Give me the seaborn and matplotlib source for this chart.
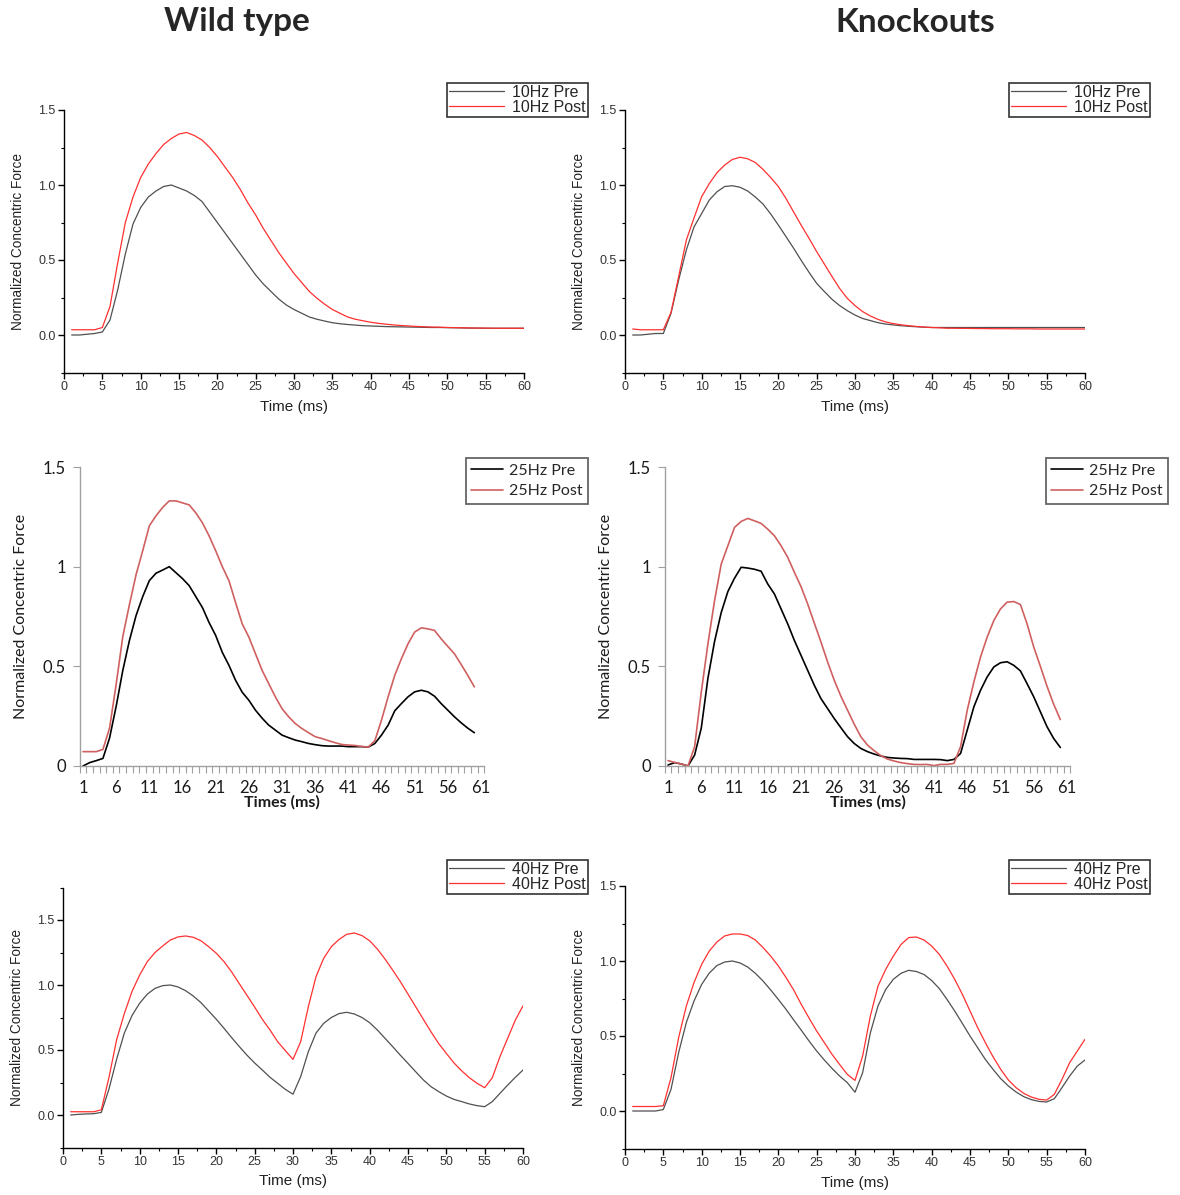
import numpy as np
import matplotlib
matplotlib.use("Agg")
import matplotlib.pyplot as plt
from matplotlib.ticker import MultipleLocator, FixedLocator
import seaborn as sns

# time axis (ms) / Excel categories
time_ms = list(range(1, 61))

# 10 Hz (Origin plots)
wt10_pre = [0.0, 0.0, 0.005, 0.01, 0.02, 0.1, 0.3, 0.54, 0.74, 0.85,
            0.92, 0.96, 0.99, 1.0, 0.98, 0.96, 0.93, 0.89, 0.82, 0.75,
            0.68, 0.61, 0.54, 0.47, 0.4, 0.34, 0.29, 0.24, 0.2, 0.17,
            0.145, 0.12, 0.105, 0.093, 0.082, 0.075, 0.07, 0.066, 0.062, 0.06,
            0.058, 0.056, 0.055, 0.054, 0.053, 0.052, 0.051, 0.05, 0.05, 0.049,
            0.048, 0.047, 0.046, 0.046, 0.045, 0.045, 0.045, 0.045, 0.045, 0.045]
wt10_post = [0.035, 0.035, 0.035, 0.035, 0.05, 0.19, 0.48, 0.75, 0.92, 1.05,
             1.14, 1.21, 1.27, 1.31, 1.34, 1.35, 1.33, 1.3, 1.25, 1.19,
             1.12, 1.05, 0.97, 0.88, 0.8, 0.71, 0.63, 0.55, 0.48, 0.41,
             0.35, 0.29, 0.245, 0.205, 0.17, 0.145, 0.12, 0.105, 0.095, 0.085,
             0.078, 0.072, 0.067, 0.063, 0.06, 0.057, 0.055, 0.053, 0.052, 0.05,
             0.049, 0.048, 0.047, 0.046, 0.046, 0.045, 0.045, 0.045, 0.045, 0.045]
ko10_pre = [0.0, 0.0, 0.005, 0.01, 0.01, 0.144, 0.367, 0.567, 0.72, 0.81,
            0.9, 0.955, 0.99, 0.995, 0.985, 0.96, 0.92, 0.873, 0.807, 0.733,
            0.656, 0.578, 0.496, 0.418, 0.344, 0.29, 0.238, 0.196, 0.162, 0.133,
            0.11, 0.096, 0.082, 0.073, 0.067, 0.062, 0.058, 0.055, 0.052, 0.05,
            0.05, 0.05, 0.05, 0.05, 0.05, 0.05, 0.05, 0.05, 0.05, 0.05,
            0.05, 0.05, 0.05, 0.05, 0.05, 0.05, 0.05, 0.05, 0.05, 0.05]
ko10_post = [0.04, 0.035, 0.035, 0.035, 0.035, 0.15, 0.39, 0.633, 0.78, 0.922,
             1.01, 1.082, 1.133, 1.17, 1.185, 1.175, 1.15, 1.104, 1.05, 0.99,
             0.91, 0.82, 0.73, 0.645, 0.556, 0.473, 0.39, 0.31, 0.244, 0.196,
             0.156, 0.127, 0.104, 0.087, 0.076, 0.068, 0.062, 0.057, 0.053, 0.05,
             0.048, 0.045, 0.045, 0.044, 0.044, 0.043, 0.043, 0.042, 0.042, 0.042,
             0.041, 0.041, 0.041, 0.04, 0.04, 0.04, 0.04, 0.04, 0.04, 0.04]

# 25 Hz (Excel plots)
wt25_pre = [0.0, 0.017, 0.027, 0.038, 0.14, 0.3, 0.48, 0.63, 0.755, 0.85,
            0.93, 0.967, 0.983, 1.0, 0.97, 0.94, 0.905, 0.85, 0.795, 0.72,
            0.655, 0.57, 0.505, 0.43, 0.37, 0.33, 0.28, 0.24, 0.205, 0.18,
            0.155, 0.142, 0.13, 0.122, 0.113, 0.107, 0.102, 0.1, 0.1, 0.1,
            0.097, 0.097, 0.097, 0.095, 0.113, 0.155, 0.205, 0.277, 0.313, 0.347,
            0.372, 0.38, 0.372, 0.35, 0.313, 0.28, 0.247, 0.217, 0.19, 0.167]
wt25_post = [0.072, 0.072, 0.072, 0.083, 0.19, 0.41, 0.65, 0.81, 0.96, 1.08,
             1.205, 1.255, 1.297, 1.33, 1.33, 1.32, 1.31, 1.27, 1.22, 1.155,
             1.08, 1.0, 0.93, 0.82, 0.713, 0.647, 0.563, 0.48, 0.413, 0.347,
             0.288, 0.247, 0.213, 0.188, 0.167, 0.147, 0.138, 0.127, 0.117, 0.108,
             0.105, 0.103, 0.098, 0.095, 0.127, 0.23, 0.347, 0.455, 0.538, 0.613,
             0.672, 0.693, 0.688, 0.68, 0.638, 0.6, 0.563, 0.51, 0.455, 0.397]
ko25_pre = [0.005, 0.017, 0.01, 0.0, 0.055, 0.19, 0.44, 0.625, 0.77, 0.875,
            0.942, 0.997, 0.993, 0.987, 0.977, 0.913, 0.863, 0.788, 0.713, 0.63,
            0.555, 0.48, 0.405, 0.338, 0.288, 0.238, 0.192, 0.147, 0.113, 0.088,
            0.072, 0.06, 0.05, 0.043, 0.04, 0.038, 0.037, 0.033, 0.033, 0.033,
            0.033, 0.032, 0.027, 0.033, 0.063, 0.18, 0.297, 0.38, 0.447, 0.497,
            0.518, 0.523, 0.505, 0.477, 0.413, 0.347, 0.272, 0.197, 0.138, 0.093]
ko25_post = [0.027, 0.018, 0.01, 0.0, 0.097, 0.37, 0.613, 0.83, 1.013, 1.105,
             1.197, 1.227, 1.242, 1.23, 1.217, 1.188, 1.155, 1.105, 1.047, 0.972,
             0.9, 0.813, 0.717, 0.622, 0.522, 0.43, 0.35, 0.28, 0.21, 0.147,
             0.105, 0.077, 0.052, 0.035, 0.025, 0.017, 0.012, 0.008, 0.007, 0.008,
             0.002, 0.008, 0.008, 0.013, 0.097, 0.28, 0.422, 0.547, 0.647, 0.73,
             0.788, 0.822, 0.825, 0.81, 0.713, 0.597, 0.5, 0.4, 0.31, 0.233]

# 40 Hz (Origin plots)
wt40_pre = [0.0, 0.005, 0.008, 0.01, 0.02, 0.2, 0.43, 0.63, 0.765, 0.86,
            0.93, 0.974, 0.995, 1.0, 0.985, 0.956, 0.915, 0.864, 0.8, 0.736,
            0.667, 0.595, 0.526, 0.46, 0.4, 0.346, 0.29, 0.244, 0.197, 0.16,
            0.295, 0.487, 0.63, 0.705, 0.75, 0.78, 0.79, 0.777, 0.75, 0.71,
            0.654, 0.59, 0.526, 0.46, 0.397, 0.333, 0.27, 0.218, 0.18, 0.146,
            0.12, 0.103, 0.085, 0.072, 0.064, 0.103, 0.167, 0.23, 0.29, 0.346]
wt40_post = [0.025, 0.025, 0.025, 0.025, 0.04, 0.29, 0.58, 0.78, 0.95, 1.077,
             1.18, 1.25, 1.3, 1.346, 1.37, 1.377, 1.367, 1.34, 1.295, 1.244,
             1.18, 1.1, 1.01, 0.92, 0.83, 0.736, 0.654, 0.564, 0.495, 0.428,
             0.564, 0.833, 1.064, 1.205, 1.295, 1.35, 1.39, 1.4, 1.38, 1.34,
             1.277, 1.2, 1.115, 1.026, 0.93, 0.833, 0.736, 0.64, 0.55, 0.474,
             0.4, 0.34, 0.287, 0.244, 0.21, 0.287, 0.45, 0.59, 0.73, 0.84]
ko40_pre = [0.0, 0.0, 0.0, 0.0, 0.01, 0.144, 0.39, 0.59, 0.733, 0.844,
            0.92, 0.97, 0.993, 1.0, 0.987, 0.96, 0.918, 0.867, 0.807, 0.744,
            0.678, 0.607, 0.538, 0.467, 0.4, 0.34, 0.284, 0.233, 0.189, 0.125,
            0.256, 0.52, 0.7, 0.81, 0.878, 0.918, 0.938, 0.93, 0.91, 0.87,
            0.816, 0.744, 0.667, 0.584, 0.5, 0.422, 0.344, 0.278, 0.216, 0.167,
            0.127, 0.096, 0.076, 0.064, 0.06, 0.082, 0.156, 0.233, 0.3, 0.34]
ko40_post = [0.03, 0.03, 0.03, 0.03, 0.035, 0.222, 0.49, 0.7, 0.856, 0.978,
             1.067, 1.127, 1.167, 1.18, 1.18, 1.17, 1.14, 1.09, 1.033, 0.967,
             0.89, 0.807, 0.71, 0.62, 0.533, 0.456, 0.378, 0.31, 0.244, 0.204,
             0.367, 0.633, 0.833, 0.944, 1.033, 1.11, 1.156, 1.16, 1.14, 1.1,
             1.044, 0.967, 0.878, 0.778, 0.667, 0.556, 0.456, 0.362, 0.278, 0.207,
             0.156, 0.118, 0.093, 0.078, 0.073, 0.111, 0.211, 0.322, 0.4, 0.478]

excel_xticks = [1, 6, 11, 16, 21, 26, 31, 36, 41, 46, 51, 56, 61]

sns.set_theme(style="white")
plt.rcParams['font.family'] = ['Liberation Sans', 'DejaVu Sans']

W, H = 1180, 1195
fig = plt.figure(figsize=(W / 100, H / 100), dpi=100)


def ax_at(x0, x1, y_top, y_bot):
    return fig.add_axes([x0 / W, 1 - y_bot / H, (x1 - x0) / W, (y_bot - y_top) / H])


def origin_panel(ax, pre, post, freq, ymax, leg_right, leg_top):
    sns.lineplot(x=time_ms, y=pre, ax=ax, color='#505050', lw=0.9, label=f'{freq} Pre')
    sns.lineplot(x=time_ms, y=post, ax=ax, color='#ff3030', lw=0.9, label=f'{freq} Post')
    ax.set_xlim(0, 60)
    ax.set_ylim(-0.25, ymax)
    for s in ['top', 'right']:
        ax.spines[s].set_visible(False)
    for s in ['left', 'bottom']:
        ax.spines[s].set_color('black')
        ax.spines[s].set_linewidth(1.0)
    ax.xaxis.set_major_locator(MultipleLocator(5))
    ax.xaxis.set_minor_locator(MultipleLocator(2.5))
    ax.yaxis.set_major_locator(FixedLocator([0, 0.5, 1.0, 1.5]))
    ax.yaxis.set_minor_locator(MultipleLocator(0.25))
    ax.yaxis.set_major_formatter('{x:.1f}')
    ax.tick_params(which='major', direction='out', length=4, width=1,
                   labelsize=9, labelcolor='#333333', color='black', pad=2,
                   bottom=True, left=True)
    ax.tick_params(which='minor', direction='out', length=2.5, width=0.8,
                   color='black', bottom=True, left=True)
    ax.set_xlabel('Time (ms)', fontsize=11, color='#222222')
    ax.set_ylabel('Normalized Concentric Force', fontsize=9.8, color='#222222')
    h_px = ax.get_position().height * H
    ax.xaxis.set_label_coords(0.5, -27 / h_px)
    ax.yaxis.set_label_coords(-39 / 460, 0.5)
    ax.legend(loc='upper right', bbox_to_anchor=(leg_right / W, 1 - leg_top / H),
              bbox_transform=fig.transFigure, frameon=True, fancybox=False,
              edgecolor='black', fontsize=11.5, borderpad=0.12, labelspacing=0.0,
              handlelength=3.4, handletextpad=0.55, borderaxespad=0)
    ax.get_legend().get_frame().set_linewidth(1.2)


def excel_panel(ax, pre, post, freq, leg_right, leg_top):
    sns.lineplot(x=time_ms, y=pre, ax=ax, color='black', lw=1.2, label=f'{freq} Pre')
    sns.lineplot(x=time_ms, y=post, ax=ax, color='#d06060', lw=1.2, label=f'{freq} Post')
    ax.set_xlim(0.5, 61.5)
    ax.set_ylim(0, 1.5)
    for s in ['top', 'right']:
        ax.spines[s].set_visible(False)
    for s in ['left', 'bottom']:
        ax.spines[s].set_color('#a0a0a0')
        ax.spines[s].set_linewidth(1.0)
    ax.set_xticks(excel_xticks)
    ax.set_xticklabels([str(v) for v in excel_xticks])
    ax.xaxis.set_minor_locator(FixedLocator(np.arange(0.5, 62, 1.0)))
    ax.set_yticks([0, 0.5, 1.0, 1.5])
    ax.set_yticklabels(['0', '0.5', '1', '1.5'])
    ax.tick_params(axis='x', which='major', length=0, pad=10, labelsize=12,
                   labelcolor='#1a1a1a')
    ax.tick_params(axis='x', which='minor', direction='out', length=5, width=0.8,
                   color='#a0a0a0', bottom=True)
    ax.tick_params(axis='y', which='major', direction='out', length=5, width=0.8,
                   color='#a0a0a0', pad=5, labelsize=12, labelcolor='#1a1a1a', left=True)
    for lab in ax.get_xticklabels() + ax.get_yticklabels():
        lab.set_family(['Lato', 'DejaVu Sans'])
    ax.set_xlabel('Times (ms)', fontsize=11.5, fontweight='bold', color='#1a1a1a',
                  family=['Lato', 'DejaVu Sans'])
    ax.set_ylabel('Normalized Concentric Force', fontsize=11.5, color='#1a1a1a',
                  family=['Lato', 'DejaVu Sans'])
    ax.xaxis.set_label_coords(0.5, -29 / 299)
    ax.yaxis.set_label_coords(-52 / 405, 0.5)
    ax.legend(loc='upper right', bbox_to_anchor=(leg_right / W, 1 - leg_top / H),
              bbox_transform=fig.transFigure, frameon=True, fancybox=False,
              edgecolor='#404040', borderpad=0.35, labelspacing=0.4,
              handlelength=2.0, handletextpad=0.35, borderaxespad=0,
              prop={'family': ['Lato', 'DejaVu Sans'], 'size': 11.5})
    ax.get_legend().get_frame().set_linewidth(1.3)


# top row: 10 Hz
origin_panel(ax_at(64, 524, 110, 372.5), wt10_pre, wt10_post, '10Hz', 1.5, 588, 83)
origin_panel(ax_at(625, 1085, 110, 372.5), ko10_pre, ko10_post, '10Hz', 1.5, 1150, 83)

# middle row: 25 Hz
excel_panel(ax_at(79.7, 484.3, 467, 766), wt25_pre, wt25_post, '25Hz', 588, 458)
excel_panel(ax_at(664.7, 1070.3, 467, 766), ko25_pre, ko25_post, '25Hz', 1168, 458)

# bottom row: 40 Hz
origin_panel(ax_at(63, 523, 887.5, 1147.5), wt40_pre, wt40_post, '40Hz', 1.75, 588, 860)
origin_panel(ax_at(625, 1085, 886, 1148.5), ko40_pre, ko40_post, '40Hz', 1.5, 1150, 860)

fig.text(237 / W, 1 - 22 / H, 'Wild type', ha='center', va='center', fontsize=24,
         fontweight='bold', family=['Lato', 'DejaVu Sans'])
fig.text(915 / W, 1 - 22 / H, 'Knockouts', ha='center', va='center', fontsize=24,
         fontweight='bold', family=['Lato', 'DejaVu Sans'])

fig.savefig('out.png', dpi=100)
